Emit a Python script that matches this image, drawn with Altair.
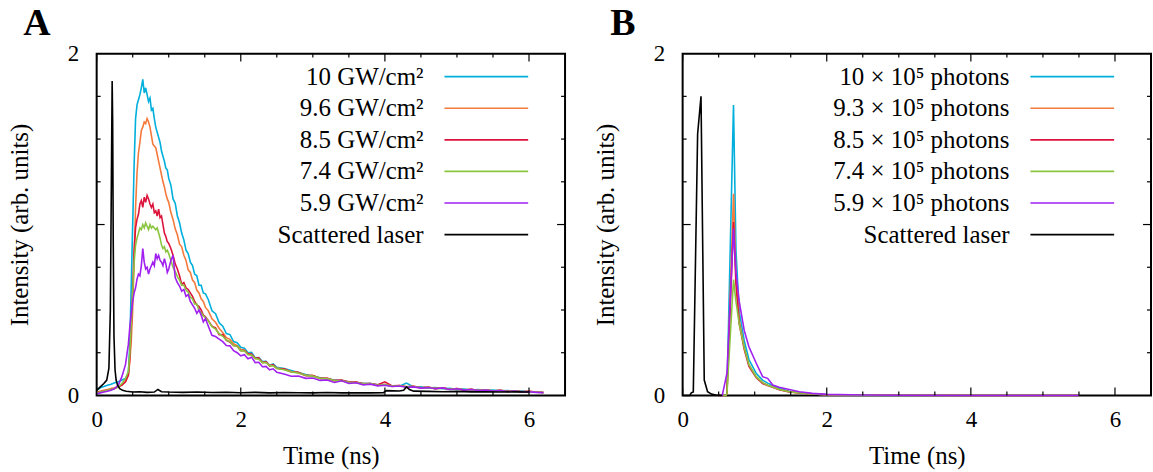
import altair as alt
import pandas as pd

# ---------------- data : panel A ----------------
t_a = [0.00, 0.05, 0.10, 0.15, 0.20, 0.25, 0.30, 0.35, 0.40,
       0.44, 0.46, 0.48, 0.50, 0.52, 0.54, 0.56, 0.58, 0.60, 0.62,
       0.64, 0.66, 0.68, 0.70, 0.72, 0.74, 0.76, 0.78, 0.80, 0.82,
       0.84, 0.86, 0.88, 0.90, 0.92, 0.94, 0.96, 0.98, 1.00,
       1.03, 1.06, 1.09, 1.12, 1.15, 1.18, 1.21, 1.24, 1.27, 1.30,
       1.33, 1.36, 1.39, 1.42, 1.45, 1.48, 1.51,
       1.55, 1.60, 1.65, 1.70, 1.75, 1.80, 1.85, 1.90, 1.95, 2.00,
       2.05, 2.10, 2.15, 2.20, 2.25, 2.30, 2.35, 2.40, 2.45, 2.50,
       2.6, 2.7, 2.8, 2.9, 3.0, 3.1, 3.2, 3.3, 3.4, 3.5,
       3.6, 3.7, 3.8, 3.9, 4.0, 4.1, 4.2, 4.3, 4.4, 4.5,
       4.6, 4.7, 4.8, 4.9, 5.0, 5.1, 5.2, 5.3, 5.4, 5.5,
       5.6, 5.7, 5.8, 5.9, 6.0, 6.1, 6.2]

a_100 = [0.030, 0.045, 0.052, 0.060, 0.066, 0.074, 0.080, 0.090, 0.100,
         0.130, 0.300, 0.650, 1.000, 1.350, 1.620, 1.700, 1.730, 1.760, 1.800,
         1.850, 1.770, 1.800, 1.760, 1.720, 1.740, 1.670, 1.680, 1.620, 1.570,
         1.540, 1.510, 1.480, 1.430, 1.400, 1.370, 1.330, 1.320, 1.270,
         1.230, 1.150, 1.125, 1.050, 1.010, 0.950, 0.910, 0.850, 0.830, 0.780,
         0.760, 0.710, 0.700, 0.645, 0.645, 0.600, 0.595,
         0.560, 0.495, 0.478, 0.425, 0.405, 0.362, 0.356, 0.315, 0.308, 0.282,
         0.276, 0.250, 0.252, 0.220, 0.222, 0.198, 0.200, 0.176, 0.184, 0.165,
         0.158, 0.146, 0.134, 0.122, 0.114, 0.104, 0.098, 0.090, 0.088, 0.079,
         0.076, 0.070, 0.069, 0.062, 0.060, 0.057, 0.054, 0.072, 0.049, 0.050,
         0.044, 0.046, 0.039, 0.042, 0.035, 0.038, 0.032, 0.034, 0.029, 0.031,
         0.027, 0.029, 0.024, 0.026, 0.021, 0.020, 0.017]

a_96 = [0.020, 0.025, 0.030, 0.035, 0.040, 0.045, 0.050, 0.060, 0.080,
        0.120, 0.200, 0.320, 0.500, 0.800, 1.100, 1.300, 1.420, 1.480, 1.550,
        1.570, 1.600, 1.590, 1.620, 1.600, 1.570, 1.520, 1.470, 1.460, 1.450,
        1.410, 1.370, 1.330, 1.290, 1.250, 1.220, 1.180, 1.150, 1.130,
        1.070, 1.030, 0.975, 0.940, 0.885, 0.870, 0.820, 0.790, 0.735, 0.720,
        0.675, 0.660, 0.615, 0.600, 0.565, 0.550, 0.515,
        0.495, 0.448, 0.428, 0.392, 0.368, 0.338, 0.328, 0.302, 0.292, 0.268,
        0.266, 0.244, 0.238, 0.215, 0.216, 0.193, 0.194, 0.176, 0.176, 0.160,
        0.154, 0.140, 0.132, 0.118, 0.116, 0.099, 0.101, 0.085, 0.090, 0.075,
        0.078, 0.066, 0.070, 0.058, 0.065, 0.053, 0.058, 0.050, 0.054, 0.044,
        0.048, 0.040, 0.044, 0.036, 0.040, 0.032, 0.036, 0.029, 0.032, 0.026,
        0.030, 0.024, 0.027, 0.021, 0.024, 0.019, 0.017]

a_85 = [0.020, 0.022, 0.025, 0.030, 0.035, 0.040, 0.050, 0.060, 0.080,
        0.120, 0.220, 0.400, 0.620, 0.850, 0.980, 1.030, 1.060, 1.120, 1.140,
        1.100, 1.160, 1.130, 1.170, 1.150, 1.120, 1.100, 1.120, 1.070, 1.080,
        1.050, 1.090, 1.040, 1.050, 1.000, 0.950, 0.930, 0.900, 0.890,
        0.860, 0.820, 0.770, 0.740, 0.700, 0.650, 0.660, 0.630, 0.620, 0.600,
        0.580, 0.550, 0.530, 0.520, 0.500, 0.470, 0.460,
        0.438, 0.405, 0.396, 0.355, 0.356, 0.322, 0.312, 0.292, 0.288, 0.262,
        0.262, 0.242, 0.242, 0.218, 0.220, 0.192, 0.198, 0.172, 0.180, 0.158,
        0.156, 0.138, 0.136, 0.116, 0.116, 0.100, 0.100, 0.088, 0.088, 0.080,
        0.078, 0.070, 0.070, 0.062, 0.080, 0.056, 0.058, 0.051, 0.053, 0.045,
        0.049, 0.040, 0.045, 0.036, 0.041, 0.032, 0.036, 0.029, 0.033, 0.026,
        0.030, 0.024, 0.027, 0.021, 0.024, 0.020, 0.018]

a_74 = [0.015, 0.020, 0.025, 0.030, 0.035, 0.040, 0.050, 0.070, 0.100,
        0.140, 0.250, 0.420, 0.600, 0.780, 0.880, 0.920, 0.950, 0.980, 0.970,
        1.000, 0.980, 1.010, 0.990, 0.970, 1.000, 0.980, 0.990, 0.980, 0.970,
        0.980, 0.950, 0.920, 0.880, 0.860, 0.870, 0.840, 0.850, 0.830,
        0.790, 0.750, 0.725, 0.695, 0.675, 0.645, 0.645, 0.615, 0.605, 0.575,
        0.565, 0.535, 0.535, 0.495, 0.485, 0.465, 0.455,
        0.436, 0.402, 0.388, 0.362, 0.346, 0.324, 0.316, 0.292, 0.288, 0.262,
        0.260, 0.238, 0.236, 0.216, 0.212, 0.192, 0.192, 0.174, 0.173, 0.158,
        0.150, 0.138, 0.131, 0.118, 0.113, 0.100, 0.098, 0.087, 0.086, 0.077,
        0.076, 0.068, 0.069, 0.060, 0.063, 0.055, 0.056, 0.050, 0.052, 0.045,
        0.047, 0.041, 0.042, 0.037, 0.038, 0.033, 0.034, 0.030, 0.031, 0.027,
        0.028, 0.024, 0.025, 0.021, 0.022, 0.019, 0.017]

a_59 = [0.010, 0.015, 0.020, 0.025, 0.030, 0.040, 0.060, 0.110, 0.180,
        0.300, 0.400, 0.480, 0.550, 0.600, 0.630, 0.680, 0.710, 0.700, 0.760,
        0.860, 0.780, 0.740, 0.750, 0.710, 0.740, 0.760, 0.780, 0.760, 0.830,
        0.800, 0.820, 0.790, 0.780, 0.760, 0.800, 0.770, 0.720, 0.740,
        0.790, 0.820, 0.690, 0.660, 0.640, 0.610, 0.620, 0.580, 0.590, 0.550,
        0.530, 0.510, 0.480, 0.500, 0.470, 0.430, 0.450,
        0.405, 0.352, 0.345, 0.330, 0.315, 0.292, 0.290, 0.262, 0.250, 0.232,
        0.238, 0.215, 0.224, 0.192, 0.194, 0.168, 0.170, 0.150, 0.156, 0.135,
        0.125, 0.112, 0.114, 0.100, 0.102, 0.088, 0.090, 0.076, 0.086, 0.070,
        0.074, 0.062, 0.066, 0.056, 0.060, 0.052, 0.055, 0.048, 0.050, 0.043,
        0.046, 0.039, 0.044, 0.035, 0.039, 0.031, 0.035, 0.029, 0.032, 0.026,
        0.029, 0.023, 0.026, 0.020, 0.022, 0.018, 0.016]

t_laser_a = [0.00, 0.05, 0.10, 0.14, 0.17, 0.19, 0.205, 0.215, 0.222, 0.23,
             0.24, 0.255, 0.27, 0.29, 0.32, 0.36, 0.41, 0.50, 0.60, 0.70,
             0.80, 0.85, 0.90, 1.00, 1.20, 1.40, 1.60, 1.80, 2.00, 2.20,
             2.40, 2.60, 2.80, 3.00, 3.20, 3.40, 3.60, 3.80, 3.98, 4.02,
             4.20, 4.26, 4.30, 4.34, 4.40, 4.60, 4.80, 5.00, 5.20, 5.40,
             5.60, 5.80, 6.00]
laser_a = [0.030, 0.050, 0.070, 0.090, 0.160, 0.500, 1.300, 1.840, 1.600, 0.900,
           0.350, 0.150, 0.090, 0.060, 0.040, 0.030, 0.025, 0.020, 0.022, 0.018,
           0.020, 0.035, 0.022, 0.020, 0.018, 0.020, 0.017, 0.019, 0.016, 0.018,
           0.015, 0.017, 0.016, 0.015, 0.017, 0.015, 0.016, 0.015, 0.016, 0.028,
           0.026, 0.030, 0.050, 0.035, 0.025, 0.024, 0.022, 0.024, 0.021, 0.022,
           0.020, 0.021, 0.020]

# ---------------- data : panel B ----------------
t_b = [0.50, 0.55, 0.60, 0.615, 0.706, 0.74, 0.785, 0.855, 0.92, 1.02, 1.11, 1.18,
       1.25, 1.34, 1.48, 1.62, 1.80, 2.00, 2.50, 3.00, 4.00, 5.00, 5.50]
b_100 = [0.0, 0.0, 0.0, 0.01, 1.70, 0.85, 0.49, 0.32, 0.21, 0.13, 0.09, 0.072,
         0.058, 0.042, 0.025, 0.016, 0.009, 0.004, 0.002, 0.001, 0.0, 0.0, 0.0]
b_93 = [0.0, 0.0, 0.0, 0.01, 1.18, 0.70, 0.44, 0.28, 0.18, 0.11, 0.075, 0.060,
        0.050, 0.035, 0.022, 0.015, 0.008, 0.004, 0.002, 0.001, 0.0, 0.0, 0.0]
b_85 = [0.0, 0.0, 0.0, 0.01, 1.015, 0.65, 0.42, 0.27, 0.17, 0.105, 0.07, 0.058,
        0.048, 0.034, 0.021, 0.014, 0.008, 0.004, 0.002, 0.001, 0.0, 0.0, 0.0]
b_74 = [0.0, 0.0, 0.0, 0.01, 0.678, 0.55, 0.42, 0.28, 0.18, 0.11, 0.075, 0.060,
        0.050, 0.035, 0.022, 0.015, 0.008, 0.004, 0.002, 0.001, 0.0, 0.0, 0.0]
b_59 = [0.0, 0.0, 0.10, 0.13, 0.976, 0.72, 0.55, 0.38, 0.285, 0.19, 0.11, 0.10,
        0.061, 0.048, 0.035, 0.022, 0.012, 0.006, 0.003, 0.001, 0.0, 0.0, 0.0]

t_laser_b = [0.00, 0.10, 0.12, 0.148, 0.208, 0.255, 0.30, 0.346, 0.40, 0.46, 0.55]
laser_b = [0.0, 0.0, 0.015, 0.02, 1.53, 1.75, 0.09, 0.022, 0.008, 0.002, 0.0]

labels_a = ["10 GW/cm²", "9.6 GW/cm²", "8.5 GW/cm²", "7.4 GW/cm²", "5.9 GW/cm²",
            "Scattered laser"]
labels_b = ["10 × 10⁵ photons", "9.3 × 10⁵ photons", "8.5 × 10⁵ photons",
            "7.4 × 10⁵ photons", "5.9 × 10⁵ photons", "Scattered laser"]
colors = ["#00afdb", "#f47a3c", "#dc143c", "#8bc53f", "#a020f0", "#000000"]

x_major = [0, 2, 4, 6]
x_minor = [0.5, 1, 1.5, 2.5, 3, 3.5, 4.5, 5, 5.5]
y_major = [1]
y_minor = [0.25, 0.5, 0.75, 1.25, 1.5, 1.75]

for arr in (a_100, a_96, a_85, a_74, a_59):
    assert len(arr) == len(t_a), len(arr)
for arr in (b_100, b_93, b_85, b_74, b_59):
    assert len(arr) == len(t_b), len(arr)
assert len(laser_a) == len(t_laser_a)
assert len(laser_b) == len(t_laser_b)

# ---------------- layout / style ----------------
FONT = "Liberation Serif"
W, H = 470, 343
XDOM, YDOM = [0, 6.5], [0, 2]
LEG_TEXT_X, LEG_LINE_X0, LEG_LINE_X1 = 328, 349, 433
LEG_ROW0, LEG_ROW_STEP = 23.1, 31.7
LW = 1.6

XAXIS = alt.Axis(values=x_major, format="d", ticks=False, domain=False, grid=False,
                 labelFontSize=23, labelPadding=13, labelFlush=False, labelFont=FONT,
                 labelColor="black", title="Time (ns)", titleFont=FONT, titleFontSize=25,
                 titleFontWeight="normal", titleColor="black", titleX=W / 2, titleY=60,
                 titleBaseline="middle")
YAXIS = alt.Axis(values=[0, 1, 2], format="d", ticks=False, domain=False, grid=False,
                 labelFontSize=23, labelPadding=18, labelFlush=False, labelFont=FONT,
                 labelColor="black", title="Intensity (arb. units)", titleFont=FONT,
                 titleFontSize=25, titleFontWeight="normal", titleColor="black",
                 titleX=-77, titleY=H / 2, titleBaseline="middle")


def xenc(field="t"):
    return alt.X(f"{field}:Q", scale=alt.Scale(domain=XDOM, nice=False, zero=False), axis=XAXIS)


def yenc(field="v"):
    return alt.Y(f"{field}:Q", scale=alt.Scale(domain=YDOM, nice=False), axis=YAXIS)


def panel(times, series, t_laser, laser, labels, letter):
    layers = []
    for vals, col in zip(series, colors[:5]):
        df = pd.DataFrame({"t": times, "v": vals})
        layers.append(alt.Chart(df).mark_line(color=col, strokeWidth=LW)
                      .encode(x=xenc(), y=yenc()))
    dfl = pd.DataFrame({"t": t_laser, "v": laser})
    layers.append(alt.Chart(dfl).mark_line(color="black", strokeWidth=LW)
                  .encode(x=xenc(), y=yenc()))

    # ticks (inward, mirrored)
    for vals, L in ((x_major, 8), (x_minor, 4)):
        d = pd.DataFrame({"t": vals})
        layers.append(alt.Chart(d).mark_rule(color="black", strokeWidth=1.2)
                      .encode(x=xenc(), y=alt.value(H), y2=alt.value(H - L)))
        layers.append(alt.Chart(d).mark_rule(color="black", strokeWidth=1.2)
                      .encode(x=xenc(), y=alt.value(0), y2=alt.value(L)))
    for vals, L in ((y_major, 8), (y_minor, 4)):
        d = pd.DataFrame({"v": vals})
        layers.append(alt.Chart(d).mark_rule(color="black", strokeWidth=1.2)
                      .encode(y=yenc(), x=alt.value(0), x2=alt.value(L)))
        layers.append(alt.Chart(d).mark_rule(color="black", strokeWidth=1.2)
                      .encode(y=yenc(), x=alt.value(W), x2=alt.value(W - L)))

    # key (gnuplot style: label then line sample)
    leg = pd.DataFrame({"label": labels, "row": list(range(len(labels)))})
    ycalc = f"{YDOM[1]} - ({LEG_ROW0} + {LEG_ROW_STEP} * datum.row) * {YDOM[1]} / {H}"
    base = alt.Chart(leg).transform_calculate(ly=ycalc)
    layers.append(base.mark_text(align="right", baseline="alphabetic", dy=8, fontSize=25,
                                 font=FONT, color="black")
                  .encode(x=alt.value(LEG_TEXT_X), y=yenc("ly"), text="label:N"))
    layers.append(base.mark_rule(strokeWidth=LW)
                  .encode(x=alt.value(LEG_LINE_X0), x2=alt.value(LEG_LINE_X1), y=yenc("ly"),
                          color=alt.Color("label:N", scale=alt.Scale(domain=labels, range=colors),
                                          legend=None)))
    # panel letter
    layers.append(alt.Chart(alt.Data(values=[{"p": letter}]))
                  .mark_text(fontSize=38, fontWeight="bold", font=FONT, align="center",
                             baseline="alphabetic", color="black")
                  .encode(x=alt.value(-60), y=alt.value(-19), text="p:N"))
    return alt.layer(*layers).properties(width=W, height=H)


chart_a = panel(t_a, [a_100, a_96, a_85, a_74, a_59], t_laser_a, laser_a, labels_a, "A")
chart_b = panel(t_b, [b_100, b_93, b_85, b_74, b_59], t_laser_b, laser_b, labels_b, "B")

chart = (alt.hconcat(chart_a, chart_b, spacing=26)
         .configure(padding={"left": 7, "top": 3, "right": 0, "bottom": 0}, background="white")
         .configure_view(stroke="black", strokeWidth=2))

chart.save("out.html", embed_options={"renderer": "svg", "actions": False})
